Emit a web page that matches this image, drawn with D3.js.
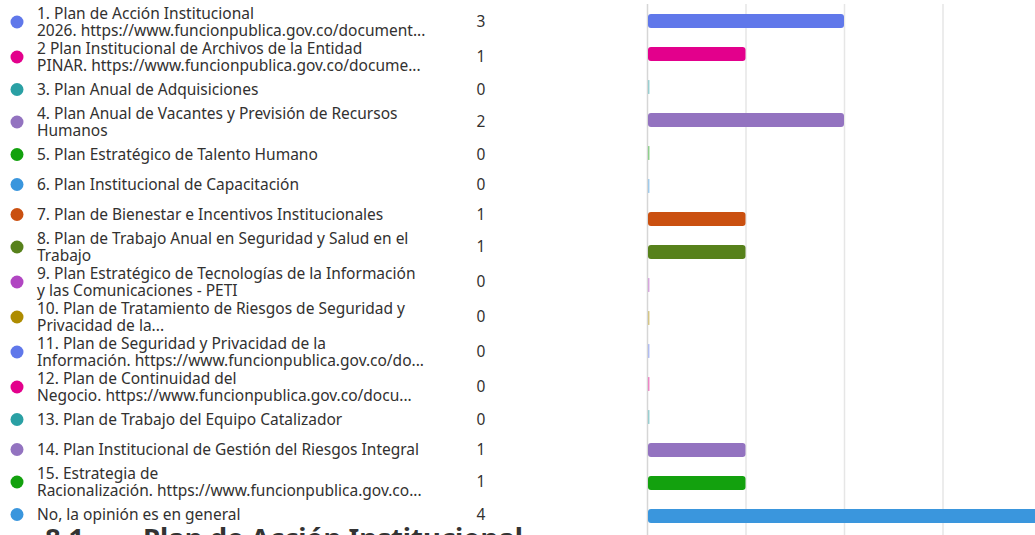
<!DOCTYPE html>
<html>
<head>
<meta charset="utf-8">
<script src="https://cdn.jsdelivr.net/npm/d3@7/dist/d3.min.js"></script>
<style>
  html, body { margin: 0; padding: 0; background: #fff; overflow: hidden; }
  svg { display: block; }
</style>
</head>
<body>
<svg id="chart" width="1035" height="535"></svg>
<script>
const categories = [
  "1. Plan de Acción Institucional\n2026. https://www.funcionpublica.gov.co/document...",
  "2 Plan Institucional de Archivos de la Entidad\nPINAR. https://www.funcionpublica.gov.co/docume...",
  "3. Plan Anual de Adquisiciones",
  "4. Plan Anual de Vacantes y Previsión de Recursos\nHumanos",
  "5. Plan Estratégico de Talento Humano",
  "6. Plan Institucional de Capacitación",
  "7. Plan de Bienestar e Incentivos Institucionales",
  "8. Plan de Trabajo Anual en Seguridad y Salud en el\nTrabajo",
  "9. Plan Estratégico de Tecnologías de la Información\ny las Comunicaciones - PETI",
  "10. Plan de Tratamiento de Riesgos de Seguridad y\nPrivacidad de la...",
  "11. Plan de Seguridad y Privacidad de la\nInformación. https://www.funcionpublica.gov.co/do...",
  "12. Plan de Continuidad del\nNegocio. https://www.funcionpublica.gov.co/docu...",
  "13. Plan de Trabajo del Equipo Catalizador",
  "14. Plan Institucional de Gestión del Riesgos Integral",
  "15. Estrategia de\nRacionalización. https://www.funcionpublica.gov.co...",
  "No, la opinión es en general"
];
// counts shown in the value column
const counts = [3, 1, 0, 2, 0, 0, 1, 1, 0, 0, 0, 0, 0, 1, 1, 4];
// bar lengths as drawn in the picture
const barValues = [2, 1, 0, 2, 0, 0, 1, 1, 0, 0, 0, 0, 0, 1, 1, 4];
const colors = ["#6078ea", "#e3008c", "#2aa0a4", "#9373c0", "#13a10e", "#3a96dd", "#ca5010", "#57811b",
                "#b146c2", "#ae8c00", "#6078ea", "#e3008c", "#2aa0a4", "#9373c0", "#13a10e", "#3a96dd"];
const axisTicks = [0, 1, 2, 3, 4];
const heading = ["8.1.", "Plan de Acción Institucional"];

const svg = d3.select("#chart");
const font = "'Noto Sans', 'Open Sans', sans-serif";

const x = d3.scaleLinear().domain([0, 4]).range([647, 1041]);
const y = d3.scaleBand().domain(d3.range(categories.length)).range([4.5, 532.5]).paddingInner(0.58).paddingOuter(0.29);

// legend row layout: one-line rows are shorter than two-line rows
const rowH = categories.map(c => c.split("\n").length === 1 ? 30 : 35);
const legendY = [];
rowH.forEach((h, i) => {
  legendY.push(i === 0 ? 22 : legendY[i - 1] + (rowH[i - 1] + h) / 2);
});

// grid
svg.append("g").selectAll("line").data(axisTicks).join("line")
  .attr("x1", d => x(d) + 0.5).attr("x2", d => x(d) + 0.5)
  .attr("y1", 4).attr("y2", 535)
  .attr("stroke", d => d === 0 ? "#d6d6d6" : "#e6e6e6").attr("stroke-width", 1.5);

// bars
svg.append("g").selectAll("rect").data(barValues).join("rect")
  .attr("x", x(0) + 1)
  .attr("y", (d, i) => y(i))
  .attr("width", d => d > 0 ? x(d) - x(0) - 1 : 1.5)
  .attr("height", y.bandwidth())
  .attr("rx", d => d > 0 ? 3 : 0)
  .attr("fill", (d, i) => colors[i])
  .attr("opacity", d => d > 0 ? 1 : 0.45);

// legend
const leg = svg.append("g").selectAll("g").data(categories).join("g")
  .attr("transform", (d, i) => `translate(0,${legendY[i]})`);
leg.append("circle").attr("cx", 17).attr("cy", 0).attr("r", 6.5).attr("fill", (d, i) => colors[i]);
leg.each(function (d) {
  const lines = d.split("\n");
  const t = d3.select(this).append("text")
    .attr("font-family", font).attr("font-size", 15.5).attr("fill", "#323130");
  lines.forEach((ln, k) => {
    t.append("tspan").attr("x", 37)
      .attr("y", (k - (lines.length - 1) / 2) * 17 + 5)
      .text(ln);
  });
});
leg.append("text").attr("x", 481).attr("y", 5).attr("text-anchor", "middle")
  .attr("font-family", font).attr("font-size", 15.5).attr("fill", "#323130")
  .text((d, i) => counts[i]);

// heading partly visible at the bottom
const h = svg.append("text").attr("y", 548).attr("font-family", font)
  .attr("font-weight", "bold").attr("font-size", 27.5).attr("fill", "#333");
h.append("tspan").attr("x", 45).text(heading[0]);
h.append("tspan").attr("x", 143).text(heading[1]);
</script>
</body>
</html>
